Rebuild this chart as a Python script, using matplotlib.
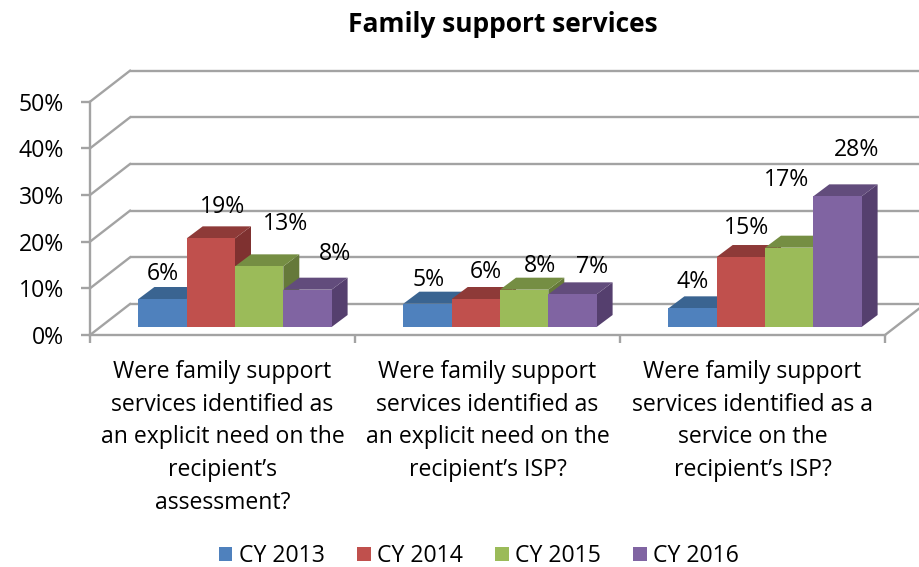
import matplotlib
matplotlib.use("Agg")
import matplotlib.pyplot as plt
from matplotlib.patches import Polygon, Patch

plt.rcParams["font.family"] = ["Open Sans", "DejaVu Sans"]

categories = [
    "Were family support\nservices identified as\nan explicit need on the\nrecipient\u2019s\nassessment?",
    "Were family support\nservices identified as\nan explicit need on the\nrecipient\u2019s ISP?",
    "Were family support\nservices identified as a\nservice on the\nrecipient\u2019s ISP?",
]
series_names = ["CY 2013", "CY 2014", "CY 2015", "CY 2016"]
cy2013 = [6, 5, 4]
cy2014 = [19, 6, 15]
cy2015 = [13, 8, 17]
cy2016 = [8, 7, 28]
y_ticks = [0, 10, 20, 30, 40, 50]

front_colors = ["#4f81bd", "#c0504d", "#9bbb59", "#8064a2"]
top_colors = ["#3a6491", "#8e3a38", "#758e43", "#624c7c"]
side_colors = ["#36587f", "#7f3130", "#65793a", "#553f6e"]
GRID = "#a3a3a3"
TEXT_SIZE = 16.6

W, H = 920, 567
fig = plt.figure(figsize=(W / 100, H / 100), dpi=100, facecolor="white")

# Plot rectangle of the front plane, in pixels
left_px, right_px, zero_px, top_px = 90, 885, 335, 101.7
ax = fig.add_axes([left_px / W, 1 - zero_px / H,
                   (right_px - left_px) / W, (zero_px - top_px) / H])
ax.set_xlim(0, 3)
ax.set_ylim(0, 50)
ax.patch.set_visible(False)

px_x = 3 / (right_px - left_px)
px_y = 50 / (zero_px - top_px)

# Oblique projection offsets for the walls and for the bars
wall_dx, wall_dy = 40 * px_x, 31 * px_y
bar_dx, bar_dy = 16 * px_x, 12 * px_y
bar_w = 48.3 * px_x
floor = 8 * px_y
shift = 12.5 * px_x

# Back wall grid and left wall diagonals
x_end = (W - left_px) * px_x
for t in y_ticks:
    ax.plot([wall_dx, x_end], [t + wall_dy] * 2, color=GRID, lw=1.7,
            clip_on=False, zorder=1, solid_capstyle="butt")
    ax.plot([0, wall_dx], [t, t + wall_dy], color=GRID, lw=1.7,
            clip_on=False, zorder=1)
# Right edge of the floor
ax.plot([3, x_end], [0, (x_end - 3) / wall_dx * wall_dy], color=GRID, lw=1.7,
        clip_on=False, zorder=1)

# Label nudges in pixels from each bar's top front centre, per series then group
label_nudges = [
    [(0, 25), (1, 24), (0, 26)],
    [(12, 31), (10, 27), (6, 29)],
    [(26, 42), (16, 24), (-3, 68)],
    [(28, 36), (20, 27), (19, 46)],
]

all_series = [cy2013, cy2014, cy2015, cy2016]
for s, values in enumerate(all_series):
    for g, v in enumerate(values):
        x0 = g + 0.5 + shift + (s - 2) * bar_w
        x1 = x0 + bar_w
        y0, y1 = floor, floor + v
        z = 3 + s * 0.1 + g
        ax.bar(x0, v, width=bar_w, bottom=floor, align="edge",
               color=front_colors[s], lw=0, zorder=z + 0.03, clip_on=False)
        ax.add_patch(Polygon([(x0, y1), (x1, y1), (x1 + bar_dx, y1 + bar_dy),
                              (x0 + bar_dx, y1 + bar_dy)],
                             fc=top_colors[s], lw=0, zorder=z + 0.02, clip_on=False))
        ax.add_patch(Polygon([(x1, y0), (x1, y1), (x1 + bar_dx, y1 + bar_dy),
                              (x1 + bar_dx, y0 + bar_dy)],
                             fc=side_colors[s], lw=0, zorder=z + 0.01, clip_on=False))
        nx, ny = label_nudges[s][g]
        ax.annotate(f"{v}%", xy=((x0 + x1) / 2, y1), xytext=(nx * 0.72, ny * 0.72),
                    textcoords="offset points", ha="center", va="center",
                    fontsize=TEXT_SIZE, color="black", zorder=20, annotation_clip=False)

# Axes furniture
for name in ("top", "right"):
    ax.spines[name].set_visible(False)
for name in ("left", "bottom"):
    ax.spines[name].set_color(GRID)
    ax.spines[name].set_linewidth(1.7)
    ax.spines[name].set_zorder(2)

ax.set_yticks(y_ticks)
ax.set_yticklabels([f"{t}%" for t in y_ticks], fontsize=TEXT_SIZE)
ax.tick_params(axis="y", length=6.5, width=1.7, color=GRID, pad=12, labelcolor="black")
ax.set_xticks([0, 1, 2, 3])
ax.set_xticklabels([])
ax.tick_params(axis="x", which="major", length=6, width=1.7, color=GRID)
ax.set_xticks([0.5, 1.5, 2.5], minor=True)
ax.set_xticklabels(categories, minor=True, fontsize=TEXT_SIZE, linespacing=1.48,
                   ha="center", va="top")
ax.tick_params(axis="x", which="minor", length=0, pad=18, labelcolor="black")

fig.text(503 / W, 1 - 25 / H, "Family support services", ha="center", va="center",
         fontsize=19, fontweight="bold", color="black")

handles = [Patch(fc=c, lw=0) for c in front_colors]
fig.legend(handles, series_names, loc="center", ncol=4,
           bbox_to_anchor=(479 / W, 1 - 556 / H), frameon=False, fontsize=TEXT_SIZE,
           handlelength=0.6, handleheight=0.6, handletextpad=0.27, columnspacing=1.4,
           borderpad=0, borderaxespad=0)

fig.savefig("out.png", dpi=100, facecolor="white")
